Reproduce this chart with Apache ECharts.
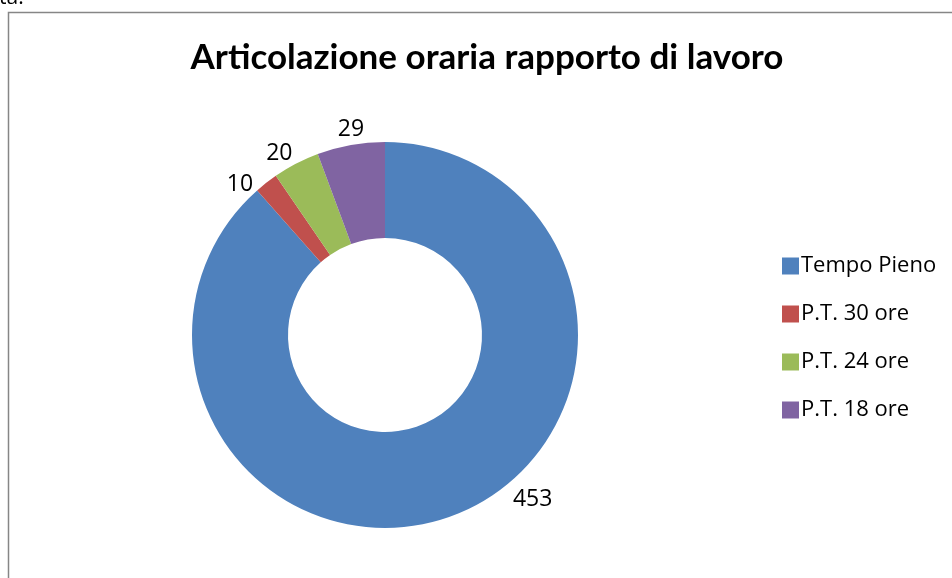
<!DOCTYPE html>
<html>
<head>
<meta charset="utf-8">
<script src="https://cdn.jsdelivr.net/npm/echarts@6/dist/echarts.min.js"></script>
<style>
    html, body { margin: 0; padding: 0; background: #fff; }
    #chart { width: 952px; height: 578px; }
</style>
</head>
<body>
<div id="chart"></div>
<script>
// Articolazione oraria rapporto di lavoro
const categories = ['Tempo Pieno', 'P.T. 30 ore', 'P.T. 24 ore', 'P.T. 18 ore'];
const values = [453, 10, 20, 29];
const colors = ['#4F81BD', '#C0504D', '#9BBB59', '#8064A2'];

// piccoli spostamenti delle etichette (come in Excel)
const labelShift = [[53, -25], [-4, 9], [4, -1], [18, -6]];

const echart = echarts.init(document.getElementById('chart'));

const option = {
    color: colors,
    animation: false,
    title: {
        text: 'Articolazione oraria rapporto di lavoro',
        left: 482,
        textAlign: 'center',
        top: 35,
        textStyle: {
            fontFamily: 'Lato',
            fontWeight: 'bold',
            fontSize: 35,
            color: '#000'
        }
    },
    legend: {
        orient: 'vertical',
        left: 777,
        top: 250,
        itemWidth: 17,
        itemHeight: 17,
        itemGap: 26,
        icon: 'rect',
        textStyle: {
            fontFamily: 'Open Sans',
            fontSize: 22,
            color: '#000',
            padding: [0, 0, 0, -3]
        },
        data: categories
    },
    graphic: [
        {
            type: 'rect',
            silent: true,
            shape: { x: 8.5, y: 12.5, width: 1000, height: 1000 },
            style: { fill: 'none', stroke: '#868686', lineWidth: 1.5 }
        },
        {
            type: 'text',
            left: -1,
            top: -12,
            style: { text: 'ta.', font: '21px "Open Sans"', fill: '#000' }
        }
    ],
    series: [
        {
            type: 'pie',
            center: [385, 335],
            radius: [97, 193],
            startAngle: 90,
            clockwise: true,
            avoidLabelOverlap: false,
            label: {
                show: true,
                position: 'outside',
                formatter: '{c}',
                fontFamily: 'Open Sans',
                fontSize: 23,
                color: '#000',
                distanceToLabelLine: 3
            },
            labelLine: { show: false, length: 10, length2: 0 },
            labelLayout: function (params) {
                const s = labelShift[params.dataIndex];
                return { dx: s[0], dy: s[1] };
            },
            emphasis: { disabled: true },
            data: categories.map((name, i) => ({ name: name, value: values[i] }))
        }
    ]
};
echart.setOption(option);
</script>
</body>
</html>
